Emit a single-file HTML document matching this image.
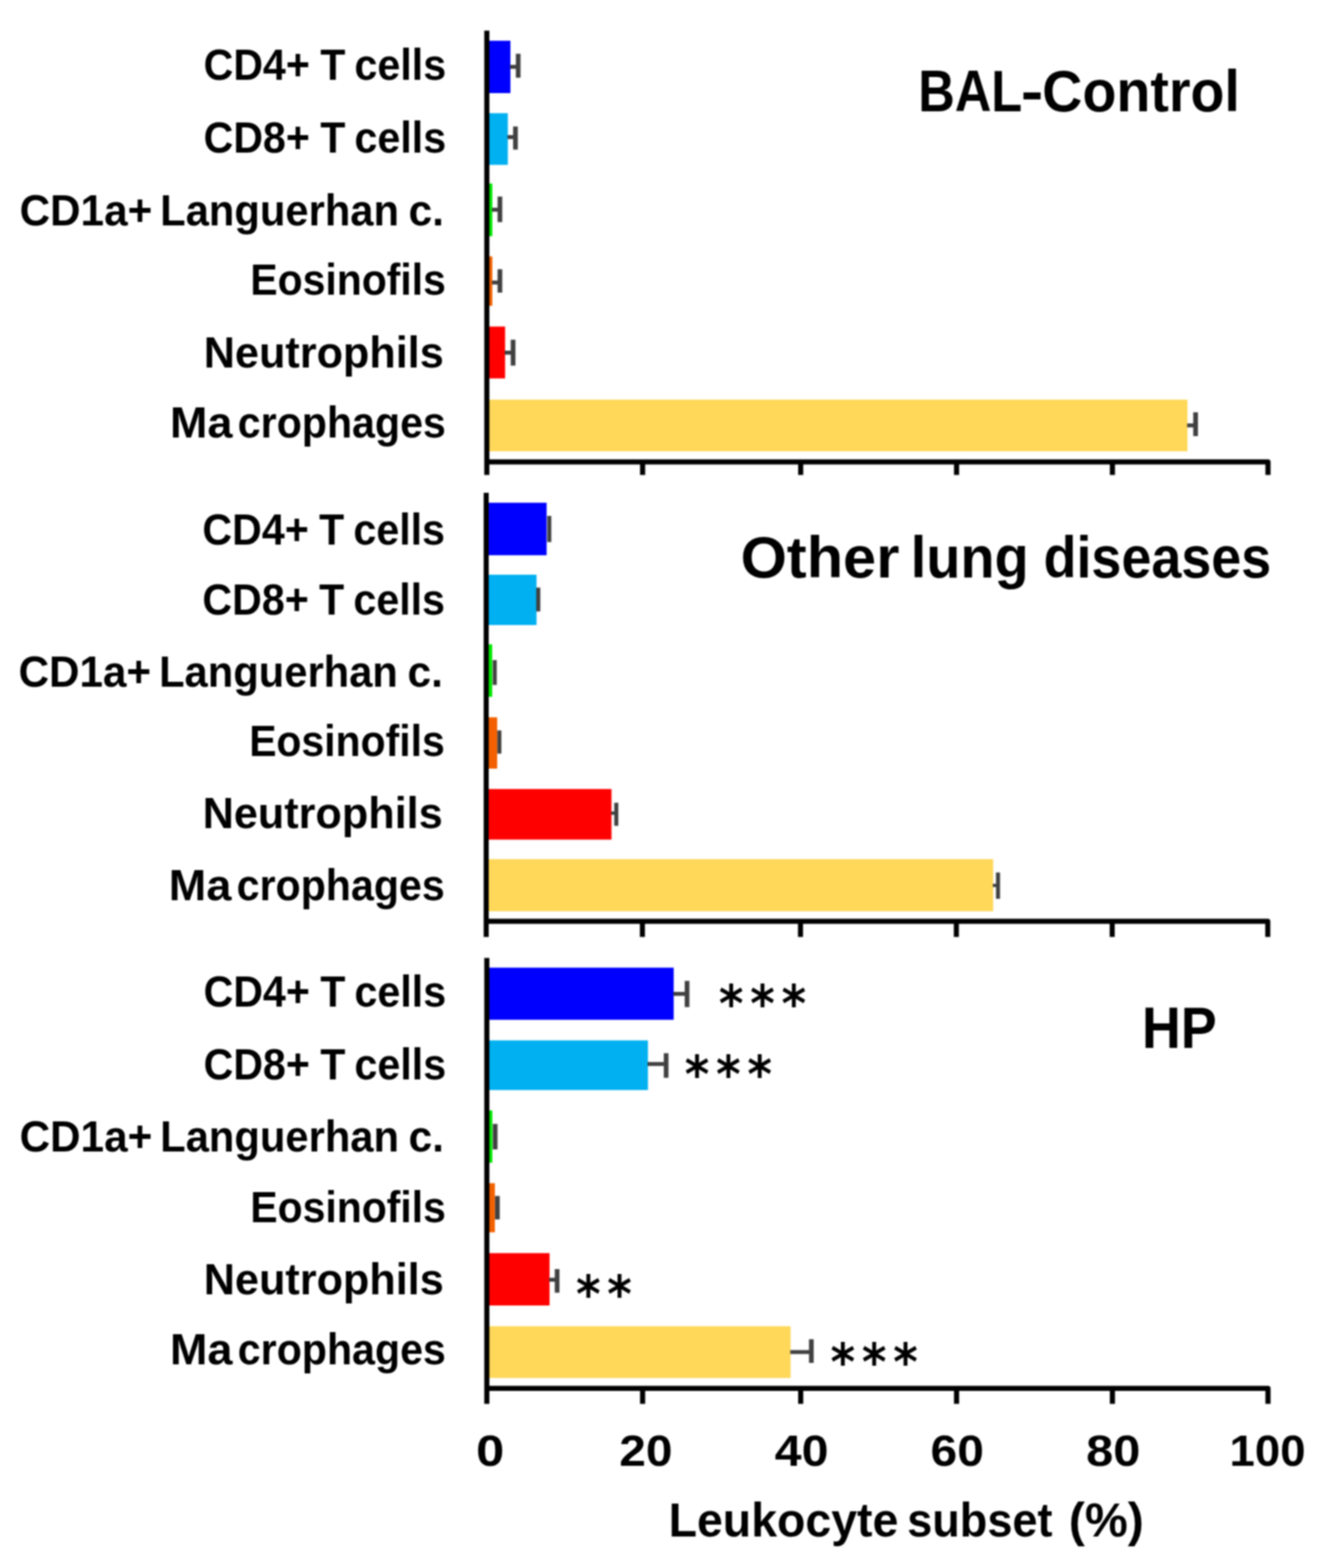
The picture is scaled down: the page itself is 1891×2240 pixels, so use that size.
<!DOCTYPE html>
<html lang="en"><head><meta charset="utf-8"><title>Leukocyte subsets in BAL</title>
<style>
html,body{margin:0;padding:0;background:#fff;}
body{width:1891px;height:2240px;overflow:hidden;}
svg{display:block;filter:blur(1px);}
text{font-family:"Liberation Sans","DejaVu Sans",sans-serif;font-weight:bold;fill:#000;font-kerning:none;}
.st text{font-family:"DejaVu Sans","Liberation Sans",sans-serif;font-weight:bold;}
</style></head><body>
<svg width="1891" height="2240" viewBox="0 0 1891 2240" role="img" aria-label="Leukocyte subsets in bronchoalveolar lavage">
<g>
<rect x="-20" y="-20" width="1931" height="2280" fill="#ffffff"/>
<g class="panel">
<rect x="695.3" y="58.2" width="33.7" height="74.8" fill="#0000ff"/>
<rect x="695.3" y="161.7" width="30" height="73.8" fill="#00b0f0"/>
<rect x="695.3" y="262.2" width="7.9" height="75.2" fill="#00e600"/>
<rect x="695.3" y="366.3" width="7.9" height="70.5" fill="#f26000"/>
<rect x="695.3" y="466.5" width="26.1" height="74.1" fill="#ff0000"/>
<rect x="695.3" y="570.9" width="1000.7" height="73.8" fill="#ffd85a"/>
<path d="M728.5 95.5H740.1" fill="none" stroke="#404040" stroke-width="5.6"/>
<path d="M740.1 76.8V111" fill="none" stroke="#404040" stroke-width="6.7"/>
<path d="M724.8 195.8H736.2" fill="none" stroke="#404040" stroke-width="5.6"/>
<path d="M736.2 180.7V213.7" fill="none" stroke="#404040" stroke-width="6.7"/>
<path d="M702.7 299.6H714" fill="none" stroke="#404040" stroke-width="5.6"/>
<path d="M714 280.8V317.3" fill="none" stroke="#404040" stroke-width="6.7"/>
<path d="M702.7 403.6H714" fill="none" stroke="#404040" stroke-width="5.6"/>
<path d="M714 384.6V418" fill="none" stroke="#404040" stroke-width="6.7"/>
<path d="M720.9 503.8H732.8" fill="none" stroke="#404040" stroke-width="5.6"/>
<path d="M732.8 485.3V522.3" fill="none" stroke="#404040" stroke-width="6.7"/>
<path d="M1695.5 607.7H1707.6" fill="none" stroke="#404040" stroke-width="5.6"/>
<path d="M1707.6 589V623" fill="none" stroke="#404040" stroke-width="6.7"/>
<path d="M695.3 43.8V678.4M695.3 659.8H1811V678.4M917.8 659.8V678.4M1143.6 659.8V678.4M1366.2 659.8V678.4M1588.8 659.8V678.4" fill="none" stroke="#000000" stroke-width="7.3" stroke-linejoin="round"/>
</g>
<g class="panel">
<rect x="694.4" y="718.2" width="86.3" height="75" fill="#0000ff"/>
<rect x="694.4" y="821" width="71.9" height="71.9" fill="#00b0f0"/>
<rect x="694.4" y="920.5" width="8.6" height="74.9" fill="#00e600"/>
<rect x="694.4" y="1024.7" width="15.7" height="73.3" fill="#f26000"/>
<rect x="694.4" y="1127.2" width="179" height="72.2" fill="#ff0000"/>
<rect x="694.4" y="1227.3" width="724.1" height="74.5" fill="#ffd85a"/>
<path d="M784.5 737V774.4" fill="none" stroke="#404040" stroke-width="5.8"/>
<path d="M768.8 839.4V873.5" fill="none" stroke="#404040" stroke-width="5.8"/>
<path d="M706.6 943V978.5" fill="none" stroke="#404040" stroke-width="5.8"/>
<path d="M713.2 1043.5V1076.6" fill="none" stroke="#404040" stroke-width="5.8"/>
<path d="M872.9 1161.6H880.2" fill="none" stroke="#404040" stroke-width="4.6"/>
<path d="M880.2 1146.8V1179.7" fill="none" stroke="#404040" stroke-width="5.8"/>
<path d="M1418 1264.9H1425.4" fill="none" stroke="#404040" stroke-width="4.6"/>
<path d="M1425.4 1246.4V1284" fill="none" stroke="#404040" stroke-width="5.8"/>
<path d="M694.4 704V1338.6M694.4 1316.2H1810.7V1338.6M917.5 1316.2V1338.6M1143.3 1316.2V1338.6M1365.9 1316.2V1338.6M1588.5 1316.2V1338.6" fill="none" stroke="#000000" stroke-width="7.2" stroke-linejoin="round"/>
</g>
<g class="panel">
<rect x="695.3" y="1382.4" width="266.9" height="74.4" fill="#0000ff"/>
<rect x="695.3" y="1486.3" width="230.1" height="70.9" fill="#00b0f0"/>
<rect x="695.3" y="1586.3" width="7.9" height="74.7" fill="#00e600"/>
<rect x="695.3" y="1690.3" width="11.5" height="70.1" fill="#f26000"/>
<rect x="695.3" y="1790.2" width="89.6" height="74.8" fill="#ff0000"/>
<rect x="695.3" y="1894.6" width="433.9" height="74" fill="#ffd85a"/>
<path d="M961.7 1419.8H981.3" fill="none" stroke="#404040" stroke-width="5.6"/>
<path d="M981.3 1401.3V1438.7" fill="none" stroke="#404040" stroke-width="6.7"/>
<path d="M924.9 1520H951.4" fill="none" stroke="#404040" stroke-width="5.6"/>
<path d="M951.4 1504.6V1539.7" fill="none" stroke="#404040" stroke-width="6.7"/>
<path d="M707.2 1605.6V1642" fill="none" stroke="#404040" stroke-width="6.7"/>
<path d="M710.4 1708.5V1742" fill="none" stroke="#404040" stroke-width="6.7"/>
<path d="M784.4 1828.2H795.7" fill="none" stroke="#404040" stroke-width="5.6"/>
<path d="M795.7 1813V1846.7" fill="none" stroke="#404040" stroke-width="6.7"/>
<path d="M1128.7 1931.5H1158.8" fill="none" stroke="#404040" stroke-width="5.6"/>
<path d="M1158.8 1913.2V1947" fill="none" stroke="#404040" stroke-width="6.7"/>
<path d="M695.3 1368.6V2005.6M695.3 1983.3H1811V2005.6M917.8 1983.3V2005.6M1143.6 1983.3V2005.6M1366.2 1983.3V2005.6M1588.8 1983.3V2005.6" fill="none" stroke="#000000" stroke-width="7.3" stroke-linejoin="round"/>
</g>
<g class="labels">
<text y="113.8" font-size="63.5" xml:space="preserve"><tspan x="290.69" textLength="151.89" lengthAdjust="spacingAndGlyphs">CD4+</tspan> <tspan x="457.44" textLength="35.79" lengthAdjust="spacingAndGlyphs">T</tspan> <tspan x="506.3" textLength="130.91" lengthAdjust="spacingAndGlyphs">cells</tspan></text>
<text y="217.6" font-size="63.5" xml:space="preserve"><tspan x="290.69" textLength="151.89" lengthAdjust="spacingAndGlyphs">CD8+</tspan> <tspan x="457.44" textLength="35.79" lengthAdjust="spacingAndGlyphs">T</tspan> <tspan x="506.3" textLength="130.91" lengthAdjust="spacingAndGlyphs">cells</tspan></text>
<text y="321.5" font-size="63.5" xml:space="preserve"><tspan x="28.03" textLength="189.42" lengthAdjust="spacingAndGlyphs">CD1a+</tspan> <tspan x="228.81" textLength="341.08" lengthAdjust="spacingAndGlyphs">Languerhan</tspan> <tspan x="583.53" textLength="50.65" lengthAdjust="spacingAndGlyphs">c.</tspan></text>
<text y="421.2" font-size="63.5" xml:space="preserve"><tspan x="357.49" textLength="279.31" lengthAdjust="spacingAndGlyphs">Eosinofils</tspan></text>
<text y="525.1" font-size="63.5" xml:space="preserve"><tspan x="291.07" textLength="342.76" lengthAdjust="spacingAndGlyphs">Neutrophils</tspan></text>
<text y="625.1" font-size="63.5" xml:space="preserve"><tspan x="242.7" textLength="89.29" lengthAdjust="spacingAndGlyphs">Ma</tspan><tspan x="339.6" textLength="297.21" lengthAdjust="spacingAndGlyphs">crophages</tspan></text>
<text y="777.6" font-size="63.5" xml:space="preserve"><tspan x="289.09" textLength="151.89" lengthAdjust="spacingAndGlyphs">CD4+</tspan> <tspan x="455.84" textLength="35.79" lengthAdjust="spacingAndGlyphs">T</tspan> <tspan x="504.7" textLength="130.91" lengthAdjust="spacingAndGlyphs">cells</tspan></text>
<text y="877.6" font-size="63.5" xml:space="preserve"><tspan x="289.09" textLength="151.89" lengthAdjust="spacingAndGlyphs">CD8+</tspan> <tspan x="455.84" textLength="35.79" lengthAdjust="spacingAndGlyphs">T</tspan> <tspan x="504.7" textLength="130.91" lengthAdjust="spacingAndGlyphs">cells</tspan></text>
<text y="980.5" font-size="63.5" xml:space="preserve"><tspan x="26.43" textLength="189.42" lengthAdjust="spacingAndGlyphs">CD1a+</tspan> <tspan x="227.21" textLength="341.08" lengthAdjust="spacingAndGlyphs">Languerhan</tspan> <tspan x="581.93" textLength="50.65" lengthAdjust="spacingAndGlyphs">c.</tspan></text>
<text y="1079.7" font-size="63.5" xml:space="preserve"><tspan x="355.89" textLength="279.31" lengthAdjust="spacingAndGlyphs">Eosinofils</tspan></text>
<text y="1182.9" font-size="63.5" xml:space="preserve"><tspan x="289.47" textLength="342.76" lengthAdjust="spacingAndGlyphs">Neutrophils</tspan></text>
<text y="1286.1" font-size="63.5" xml:space="preserve"><tspan x="241.1" textLength="89.29" lengthAdjust="spacingAndGlyphs">Ma</tspan><tspan x="338" textLength="297.21" lengthAdjust="spacingAndGlyphs">crophages</tspan></text>
<text y="1437.6" font-size="63.5" xml:space="preserve"><tspan x="290.69" textLength="151.89" lengthAdjust="spacingAndGlyphs">CD4+</tspan> <tspan x="457.44" textLength="35.79" lengthAdjust="spacingAndGlyphs">T</tspan> <tspan x="506.3" textLength="130.91" lengthAdjust="spacingAndGlyphs">cells</tspan></text>
<text y="1541.6" font-size="63.5" xml:space="preserve"><tspan x="290.69" textLength="151.89" lengthAdjust="spacingAndGlyphs">CD8+</tspan> <tspan x="457.44" textLength="35.79" lengthAdjust="spacingAndGlyphs">T</tspan> <tspan x="506.3" textLength="130.91" lengthAdjust="spacingAndGlyphs">cells</tspan></text>
<text y="1645.2" font-size="63.5" xml:space="preserve"><tspan x="28.03" textLength="189.42" lengthAdjust="spacingAndGlyphs">CD1a+</tspan> <tspan x="228.81" textLength="341.08" lengthAdjust="spacingAndGlyphs">Languerhan</tspan> <tspan x="583.53" textLength="50.65" lengthAdjust="spacingAndGlyphs">c.</tspan></text>
<text y="1745.5" font-size="63.5" xml:space="preserve"><tspan x="357.49" textLength="279.31" lengthAdjust="spacingAndGlyphs">Eosinofils</tspan></text>
<text y="1849.3" font-size="63.5" xml:space="preserve"><tspan x="291.07" textLength="342.76" lengthAdjust="spacingAndGlyphs">Neutrophils</tspan></text>
<text y="1949.3" font-size="63.5" xml:space="preserve"><tspan x="242.7" textLength="89.29" lengthAdjust="spacingAndGlyphs">Ma</tspan><tspan x="339.6" textLength="297.21" lengthAdjust="spacingAndGlyphs">crophages</tspan></text>
</g>
<g class="titles">
<text y="158.6" font-size="84" xml:space="preserve"><tspan x="1311.46" textLength="148.56" lengthAdjust="spacingAndGlyphs">BAL</tspan><tspan x="1458.13" textLength="32.13" lengthAdjust="spacingAndGlyphs">-</tspan><tspan x="1488.54" textLength="282.38" lengthAdjust="spacingAndGlyphs">Control</tspan></text>
<text y="825.3" font-size="84" xml:space="preserve"><tspan x="1057.71" textLength="226.77" lengthAdjust="spacingAndGlyphs">Other</tspan> <tspan x="1300.82" textLength="168.52" lengthAdjust="spacingAndGlyphs">lung</tspan> <tspan x="1490.44" textLength="325.21" lengthAdjust="spacingAndGlyphs">diseases</tspan></text>
<text y="1497.2" font-size="84" xml:space="preserve"><tspan x="1631.06" textLength="106.77" lengthAdjust="spacingAndGlyphs">HP</tspan></text>
</g>
<g class="ticklabels">
<text y="2093.8" font-size="63" xml:space="preserve"><tspan x="679.94" textLength="40.23" lengthAdjust="spacingAndGlyphs">0</tspan></text>
<text y="2093.8" font-size="63" xml:space="preserve"><tspan x="884.63" textLength="75.97" lengthAdjust="spacingAndGlyphs">20</tspan></text>
<text y="2093.8" font-size="63" xml:space="preserve"><tspan x="1106.56" textLength="76.67" lengthAdjust="spacingAndGlyphs">40</tspan></text>
<text y="2093.8" font-size="63" xml:space="preserve"><tspan x="1329.09" textLength="76.11" lengthAdjust="spacingAndGlyphs">60</tspan></text>
<text y="2093.8" font-size="63" xml:space="preserve"><tspan x="1551.19" textLength="77.47" lengthAdjust="spacingAndGlyphs">80</tspan></text>
<text y="2093.8" font-size="63" xml:space="preserve"><tspan x="1756.1" textLength="108.57" lengthAdjust="spacingAndGlyphs">100</tspan></text>
</g>
<g class="xtitle">
<text y="2194.8" font-size="68" xml:space="preserve"><tspan x="954.96" textLength="328.1" lengthAdjust="spacingAndGlyphs">Leukocyte</tspan> <tspan x="1295.74" textLength="207.45" lengthAdjust="spacingAndGlyphs">subset</tspan> <tspan x="1526.57" textLength="107.06" lengthAdjust="spacingAndGlyphs">(%)</tspan></text>
</g>
<g class="st">
<text transform="translate(1026.76 1459.22) scale(0.9217 1)" font-size="72.79" letter-spacing="10.43">***</text>
<text transform="translate(978.06 1559.62) scale(0.9217 1)" font-size="72.79" letter-spacing="10.43">***</text>
<text transform="translate(822.66 1874.16) scale(0.9245 1)" font-size="72.57" letter-spacing="10.4">**</text>
<text transform="translate(1186.36 1970.52) scale(0.9217 1)" font-size="72.79" letter-spacing="10.43">***</text>
</g>
</g>
</svg></body></html>
